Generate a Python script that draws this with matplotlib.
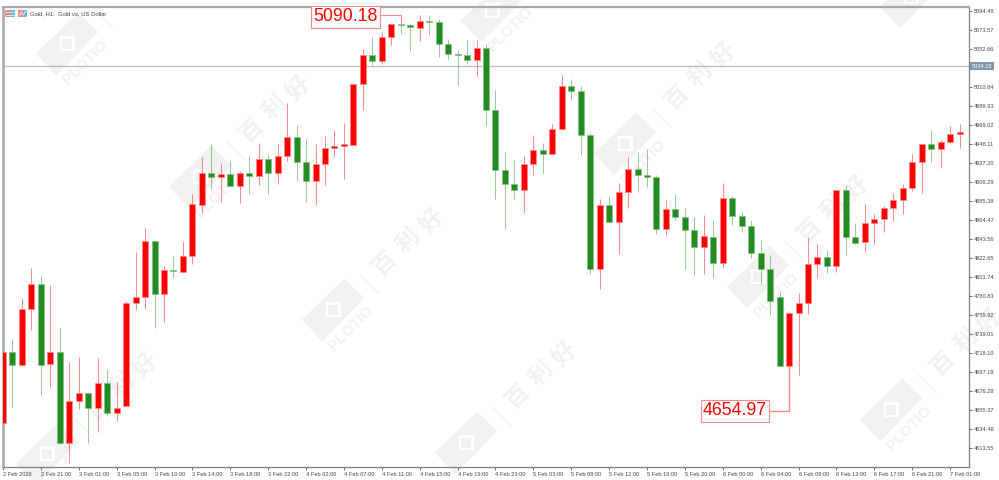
"""Gold H1 candlestick chart (MT4 style) with the PLOTIO watermark tiles."""
import matplotlib
matplotlib.use("Agg")
import matplotlib.pyplot as plt
from matplotlib.patches import Polygon, Rectangle

OPENS = [4641, 4720, 4705, 4767, 4794, 4706, 4720, 4620, 4666, 4675, 4658, 4686, 4653, 4660, 4774, 4780, 4842,
         4783, 4810, 4808, 4825, 4881, 4917, 4912, 4916, 4902, 4917, 4913, 4932, 4917, 4935, 4956, 4929, 4908,
         4927, 4944.5, 4946, 4947, 5015, 5047, 5040, 5066, 5081, 5079, 5076, 5084, 5083, 5059, 5048, 5047, 5041,
         5054, 4986, 4920, 4904, 4898, 4927, 4942, 4938, 4965, 5012, 5007, 4958, 4811, 4881, 4863, 4896, 4921,
         4914, 4912, 4855, 4877, 4868, 4854, 4835, 4846, 4818, 4889, 4869, 4858, 4829, 4811, 4780, 4704, 4763,
         4774, 4817, 4824, 4814, 4898, 4846, 4841, 4862, 4866, 4878, 4887, 4900, 4929, 4948, 4943, 4951, 4960]
HIGHS = [4720, 4734, 4779, 4812, 4804, 4793, 4746, 4709, 4714, 4675, 4713, 4701, 4687, 4776, 4830, 4856, 4843,
         4814, 4825, 4842, 4894, 4934, 4949, 4926, 4930, 4919, 4936, 4950, 4936, 4949, 4994, 4969, 4954, 4949,
         4957, 4964, 4972, 5015, 5053, 5066, 5072, 5081, 5090.18, 5082, 5091, 5091, 5086, 5064, 5052, 5063, 5063,
         5059, 5008, 4940, 4931, 4935, 4958, 4950, 4971, 5024, 5020, 5012, 4961, 4888, 4891, 4906, 4934, 4940,
         4943, 4914, 4887, 4894, 4878, 4868, 4870, 4865, 4906, 4891, 4875, 4865, 4843, 4826, 4786, 4764, 4785,
         4846, 4839, 4832, 4898, 4903, 4862, 4882, 4872, 4880, 4895, 4904, 4938, 4949, 4964, 4953, 4968, 4971]
LOWS = [4641, 4658, 4704, 4744, 4671, 4681, 4618, 4598, 4657, 4620, 4632, 4649, 4644, 4660, 4766, 4767, 4746,
        4753, 4801, 4808, 4817, 4873, 4899, 4885, 4902, 4884, 4893, 4903, 4894, 4905, 4930, 4908, 4885, 4881,
        4903, 4934, 4910, 4947, 4986, 5036, 5037, 5057, 5070, 5051, 5062, 5069, 5044, 5041, 5014, 5037, 5023,
        4968, 4888, 4855, 4888, 4873, 4914, 4915, 4938, 4965, 4997, 4936, 4806, 4789, 4863, 4827, 4878, 4896,
        4901, 4850, 4848, 4865, 4811, 4803, 4806, 4801, 4812, 4859, 4852, 4823, 4794, 4760, 4704, 4654.97, 4694,
        4761, 4801, 4807, 4808, 4826, 4839, 4830, 4839, 4852, 4864, 4872, 4897, 4895, 4929, 4922, 4948, 4944]
CLOSES = [4720, 4705, 4767, 4794, 4705, 4720, 4620, 4666, 4675, 4658, 4686, 4653, 4658, 4774, 4780, 4842, 4784,
          4810, 4809, 4825, 4882, 4917, 4912, 4916, 4902, 4917, 4913, 4932, 4917, 4935, 4956, 4929, 4908, 4927,
          4944, 4946, 4948, 5015, 5047, 5040, 5066, 5081, 5079, 5077, 5084, 5083, 5059, 5048, 5047, 5041, 5054,
          4986, 4920, 4904, 4898, 4927, 4942, 4938, 4965, 5012, 5007, 4958, 4811, 4881, 4863, 4896, 4921, 4914,
          4912, 4855, 4877, 4868, 4854, 4835, 4847, 4818, 4889, 4869, 4858, 4829, 4811, 4776, 4704, 4763, 4774,
          4817, 4824, 4814, 4898, 4846, 4840, 4862, 4866, 4878, 4887, 4900, 4929, 4948, 4943, 4951, 4960, 4962]

Y_TICKS = [5094.48, 5073.57, 5052.66, 5031.75, 5010.84, 4989.93, 4969.02, 4948.11, 4927.20, 4906.29, 4885.38,
           4864.47, 4843.56, 4822.65, 4801.74, 4780.83, 4759.92, 4739.01, 4718.10, 4697.19, 4676.28, 4655.37,
           4634.46, 4613.55]
X_LABELS = ["2 Feb 2026", "2 Feb 21:00", "3 Feb 01:00", "3 Feb 05:00", "3 Feb 10:00", "3 Feb 14:00", "3 Feb 18:00",
            "3 Feb 22:00", "4 Feb 02:00", "4 Feb 07:00", "4 Feb 11:00", "4 Feb 15:00", "4 Feb 19:00", "4 Feb 23:00",
            "5 Feb 03:00", "5 Feb 08:00", "5 Feb 12:00", "5 Feb 16:00", "5 Feb 20:00", "6 Feb 00:00", "6 Feb 04:00",
            "6 Feb 09:00", "6 Feb 13:00", "6 Feb 17:00", "6 Feb 21:00", "7 Feb 01:00"]
BID = 5034.15
HIGH_IDX, HIGH_VAL = 42, 5090.18
LOW_IDX, LOW_VAL = 83, 4654.97

# watermark tile centres, in image pixels
TILES = [(67, 44), (200, 177), (333, 310), (466, 443), (492, 11), (625, 144), (758, 277), (891, 410),
         (47, 454), (911, -3)]

W, H = 999, 480
RED, GREEN = "#ff0000", "#228b22"
MARK = "#f1f1f1"
plt.rcParams["font.family"] = ["Liberation Sans", "DejaVu Sans"]


def full_axes(fig, zorder):
    """Transparent axes covering the figure, in image pixels (y down)."""
    ax = fig.add_axes([0, 0, 1, 1], zorder=zorder)
    ax.set_xlim(0, W)
    ax.set_ylim(H, 0)
    ax.set_axis_off()
    return ax


def on_canvas(x, y, margin=6):
    return margin <= x <= W - margin and margin <= y <= H - margin


def draw_tile(ax, cx, cy):
    ax.add_patch(Polygon([(cx - 31.3, cy + 9.7), (cx + 11.3, cy - 31.3), (cx + 31.3, cy - 12), (cx - 10.7, cy + 31.3)],
                         facecolor=MARK, edgecolor="none"))
    ax.add_patch(Rectangle((cx - 7.5, cy - 7.7), 15, 15, facecolor="white", edgecolor="none"))
    ax.add_patch(Rectangle((cx - 4.7, cy - 4.9), 9.4, 9.4, facecolor=MARK, edgecolor="none"))
    if on_canvas(cx + 18, cy + 18, margin=26):
        ax.text(cx + 18, cy + 18, "PLOTIO", fontsize=11, fontweight="bold", color=MARK, rotation=45,
                ha="center", va="center", rotation_mode="anchor")
    ax.plot([cx + 27, cx + 45.3], [cy - 35.3, cy - 17], color=MARK, lw=0.8)
    for (dx, dy), ch in zip([(52, -47), (75, -68.7), (98.7, -88.7)], "百利好"):
        if on_canvas(cx + dx, cy + dy):
            ax.text(cx + dx, cy + dy, ch, fontsize=17, fontweight="bold", color=MARK, rotation=45,
                    ha="center", va="center", rotation_mode="anchor", family=["Noto Sans CJK SC", "DejaVu Sans"])


def draw_icons(ax):
    for x0, w in [(5, 10), (18, 9)]:
        ax.add_patch(Rectangle((x0, 10.3), w / 2, 6.7, facecolor="#f58a8a", edgecolor="none"))
        ax.add_patch(Rectangle((x0 + w / 2, 10.3), w / 2, 6.7, facecolor="#6fb2e6", edgecolor="none"))
    for y in (12.4, 14.8):
        ax.plot([5.5, 14.5], [y, y], color="white", lw=0.5)
    ax.plot([19.5, 21.5, 23.5, 25.5], [15.5, 12, 15, 11.5], color="white", lw=0.5)


def main():
    fig = plt.figure(figsize=(W / 100, H / 100), dpi=100, facecolor="white")
    bg = full_axes(fig, 0)
    for cx, cy in TILES:
        draw_tile(bg, cx, cy)

    ax = fig.add_axes([3 / W, (H - 467.3) / H, 966 / W, 460.3 / H], zorder=1)
    ax.patch.set_alpha(0)
    ax.set_xlim(0, 102)
    ax.set_ylim(4592.8, 5099.3)

    ax.axhline(BID, color="#b4bfca", lw=0.9, zorder=1)

    for i, (o, h, l, c) in enumerate(zip(OPENS, HIGHS, LOWS, CLOSES)):
        up = c >= o
        col = RED if up else GREEN
        ax.vlines(i, l, h, color=col, lw=0.75, alpha=0.45, zorder=2)
        ax.bar(i, abs(c - o), bottom=min(o, c), width=0.63, color=col,
               edgecolor="#ff8a8a" if up else "#86bd86", linewidth=0.5, zorder=3)

    # high / low callouts
    line_col = "#ff8a8a"
    ax.plot([HIGH_IDX - 2.05, HIGH_IDX, HIGH_IDX], [HIGH_VAL, HIGH_VAL, 5081], color=line_col, lw=0.8, zorder=4)
    ax.plot([LOW_IDX - 2.05, LOW_IDX, LOW_IDX], [LOW_VAL, LOW_VAL, 4704], color=line_col, lw=1.0, zorder=4)
    box = dict(boxstyle="square,pad=0.13", facecolor="white", edgecolor=line_col, linewidth=0.8)
    ax.text(36.2, HIGH_VAL - 1.6, f"{HIGH_VAL:.2f}", color=RED, fontsize=12.8, ha="center", va="center",
            bbox=box, zorder=5, clip_on=False)
    ax.text(77.3, LOW_VAL, f"{LOW_VAL:.2f}", color=RED, fontsize=12.8, ha="center", va="center",
            bbox=box, zorder=5, clip_on=False)

    for side, lw, col in [("top", 1.6, "#a8a8a8"), ("left", 1.8, "#a8a8a8"),
                          ("bottom", 0.9, "#808080"), ("right", 0.9, "#808080")]:
        ax.spines[side].set_linewidth(lw)
        ax.spines[side].set_color(col)

    ax.yaxis.tick_right()
    ax.set_yticks(Y_TICKS)
    ax.set_yticklabels([f"{v:.2f}" for v in Y_TICKS])
    ax.tick_params(axis="y", length=2.2, width=0.6, pad=1.2, labelsize=4.1, color="#555555", labelcolor="#444444")
    ticks = list(range(0, 101, 4))
    ax.set_xticks(ticks)
    ax.set_xticklabels(X_LABELS, ha="left")
    ax.tick_params(axis="x", length=2.2, width=0.6, pad=1.2, labelsize=4.1, color="#555555", labelcolor="#444444")

    # bid price flag on the axis
    ax.text(1.003, BID, f"{BID:.2f}", transform=ax.get_yaxis_transform(), color="white", fontsize=4.1,
            ha="left", va="center", zorder=6, clip_on=False,
            bbox=dict(boxstyle="square,pad=0.3", facecolor="#8096ad", edgecolor="none"))

    fg = full_axes(fig, 2)
    fg.patch.set_alpha(0)
    draw_icons(fg)
    fg.text(30, 13.6, "Gold, H1:  Gold vs. US Dollar", fontsize=4.2, color="#444444", va="center", ha="left")

    fig.savefig("out.png", dpi=100, facecolor="white")


if __name__ == "__main__":
    main()
